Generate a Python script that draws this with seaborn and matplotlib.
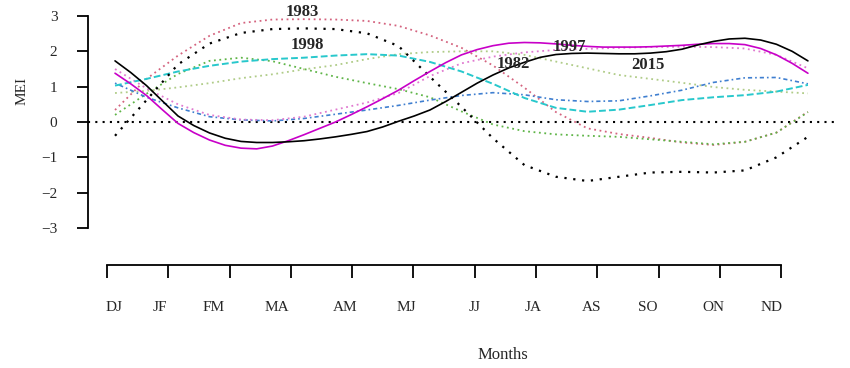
import numpy as np
import pandas as pd
import matplotlib
matplotlib.use("Agg")
import matplotlib.pyplot as plt
import seaborn as sns

# half-month grid for the dotted/dashed curves, quarter-month grid for the two solid ones
months = np.arange(1, 12.01, 0.5)
months_fine = np.arange(1, 12.01, 0.25)

mei_solid_black = [1.73, 1.40, 1.03, 0.6, 0.17, -0.1, -0.31, -0.46, -0.55, -0.58, -0.58, -0.56,
                   -0.53, -0.48, -0.42, -0.35, -0.27, -0.14, 0.02, 0.17, 0.34, 0.58, 0.84, 1.1,
                   1.33, 1.53, 1.69, 1.83, 1.91, 1.94, 1.95, 1.94, 1.93, 1.93, 1.95, 1.99,
                   2.06, 2.18, 2.28, 2.35, 2.37, 2.32, 2.2, 2.0, 1.73]
mei_solid_magenta = [1.38, 1.08, 0.75, 0.35, -0.04, -0.3, -0.51, -0.66, -0.74, -0.76, -0.68, -0.53,
                     -0.36, -0.18, 0.0, 0.21, 0.43, 0.66, 0.9, 1.17, 1.43, 1.68, 1.9, 2.05,
                     2.16, 2.23, 2.25, 2.24, 2.21, 2.17, 2.14, 2.12, 2.12, 2.12, 2.13, 2.15,
                     2.17, 2.2, 2.22, 2.22, 2.19, 2.08, 1.9, 1.66, 1.38]
mei_dotted_black = [-0.39, 0.62, 1.63, 2.22, 2.52, 2.63, 2.65, 2.63, 2.51, 2.15, 1.28, 0.43,
                    -0.46, -1.22, -1.55, -1.67, -1.55, -1.43, -1.41, -1.43, -1.37, -1.0, -0.42]
mei_dotted_red = [0.34, 1.22, 1.88, 2.44, 2.8, 2.9, 2.91, 2.9, 2.86, 2.72, 2.45, 2.1,
                  1.6, 0.97, 0.28, -0.18, -0.34, -0.45, -0.58, -0.65, -0.56, -0.3, 0.29]
mei_dotted_green = [0.2, 0.8, 1.36, 1.73, 1.82, 1.72, 1.5, 1.28, 1.1, 0.93, 0.7, 0.3,
                    -0.07, -0.26, -0.35, -0.39, -0.42, -0.49, -0.56, -0.63, -0.56, -0.3, 0.28]
mei_dotted_olive = [0.82, 0.88, 0.98, 1.1, 1.24, 1.35, 1.49, 1.61, 1.78, 1.92, 1.98, 2.0,
                    2.0, 1.9, 1.71, 1.52, 1.33, 1.22, 1.11, 0.99, 0.91, 0.86, 0.81]
mei_dashed_cyan = [1.03, 1.22, 1.43, 1.59, 1.71, 1.78, 1.82, 1.88, 1.92, 1.88, 1.7, 1.43,
                   1.08, 0.68, 0.4, 0.29, 0.35, 0.48, 0.62, 0.7, 0.76, 0.86, 1.05]
mei_dotdash_blue = [1.1, 0.7, 0.4, 0.15, 0.06, 0.03, 0.1, 0.22, 0.34, 0.47, 0.62, 0.75,
                    0.83, 0.77, 0.63, 0.58, 0.6, 0.74, 0.9, 1.12, 1.25, 1.26, 1.08]
mei_dotted_pink = [1.5, 0.95, 0.5, 0.2, 0.07, 0.05, 0.15, 0.35, 0.55, 0.82, 1.3, 1.66,
                   1.85, 1.97, 2.04, 2.07, 2.1, 2.12, 2.13, 2.12, 2.08, 1.9, 1.52]

month_labels = ['DJ', 'JF', 'FM', 'MA', 'AM', 'MJ', 'JJ', 'JA', 'AS', 'SO', 'ON', 'ND']
month_label_pos = [1.11, 1.87, 2.74, 3.77, 4.89, 5.88, 7.0, 7.95, 8.90, 9.82, 10.89, 11.84]

year_labels = ['1983', '1998', '1997', '1982', '2015']
year_label_x = [3.97, 4.06, 8.22, 7.32, 9.46]
year_label_y = [3.12, 2.18, 2.12, 1.64, 1.61]

# series name -> (x grid, values, color, linestyle, linewidth)
series = {
    'red': (months, mei_dotted_red, '#d4637f', (0, (1, 2)), 1.3),
    'green': (months, mei_dotted_green, '#5fb548', (0, (1, 2)), 1.3),
    'olive': (months, mei_dotted_olive, '#b0cc88', (0, (1, 2)), 1.3),
    'blue': (months, mei_dotdash_blue, '#3f7fd0', (0, (1, 1.8, 2.5, 1.8)), 1.2),
    'pink': (months, mei_dotted_pink, '#e07ad0', (0, (1, 2)), 1.3),
    'cyan': (months, mei_dashed_cyan, '#28c8cc', (0, (3.5, 1.6)), 1.4),
    'blackdot': (months, mei_dotted_black, 'black', (0, (1, 3)), 1.6),
    'magenta': (months_fine, mei_solid_magenta, '#c800c8', '-', 1.2),
    'black': (months_fine, mei_solid_black, 'black', '-', 1.2),
}

sns.set_style("white")
plt.rcParams['font.family'] = ['Liberation Serif', 'DejaVu Serif']

fig = plt.figure(figsize=(8.5, 3.68), dpi=100)
ax = fig.add_axes([88 / 850, 1 - 228 / 368, 747 / 850, 212 / 368])

ax.axhline(0, color='black', ls=(0, (1, 2.5)), lw=1.5, zorder=1)

for name, (xs, vals, col, ls, lw) in series.items():
    df = pd.DataFrame({'month': xs, 'mei': vals})
    sns.lineplot(data=df, x='month', y='mei', ax=ax, color=col, linestyle=ls,
                 linewidth=lw, legend=False, zorder=2)

for lab, x, y in zip(year_labels, year_label_x, year_label_y):
    ax.text(x, y, lab, fontsize=12, fontweight='bold', ha='center', va='center', zorder=5)

ax.set_xlim(0.571, 12.43)
ax.set_ylim(-3, 3)
for s in ['top', 'right', 'bottom']:
    ax.spines[s].set_visible(False)
ax.spines['left'].set_linewidth(1.3)
ax.spines['left'].set_color('black')
ax.set_xticks([])
ax.set_yticks(range(-3, 4))
ax.tick_params(axis='y', direction='out', length=8, width=1.3, pad=14,
               labelsize=11, left=True, color='black')
ax.set_xlabel('')
ax.set_ylabel('MEI', fontsize=11, va='center')
ax.yaxis.set_label_coords(22 / 850, 1 - 91 / 368, transform=fig.transFigure)

# separate x axis below the plot, R style
ax2 = fig.add_axes([88 / 850, 1 - 265 / 368, 747 / 850, 0.001])
ax2.patch.set_visible(False)
for s in ['top', 'right', 'left']:
    ax2.spines[s].set_visible(False)
ax2.spines['bottom'].set_linewidth(1.3)
ax2.spines['bottom'].set_color('black')
ax2.spines['bottom'].set_bounds(1, 12)
ax2.set_xlim(0.69, 12.88)
ax2.set_yticks([])
ax2.xaxis.remove_overlapping_locs = False
ax2.set_xticks(range(1, 13))
ax2.set_xticklabels([])
ax2.set_xticks(month_label_pos, minor=True)
ax2.set_xticklabels(month_labels, minor=True)
ax2.tick_params(axis='x', which='major', direction='out', length=9.4, width=1.3,
                bottom=True, color='black')
ax2.tick_params(axis='x', which='minor', length=0, pad=26, labelsize=11, bottom=True)
ax2.set_xlabel('Months', fontsize=12, va='center')
ax2.xaxis.set_label_coords(503 / 850, 1 - 355 / 368, transform=fig.transFigure)

fig.savefig('out.png', dpi=100)
